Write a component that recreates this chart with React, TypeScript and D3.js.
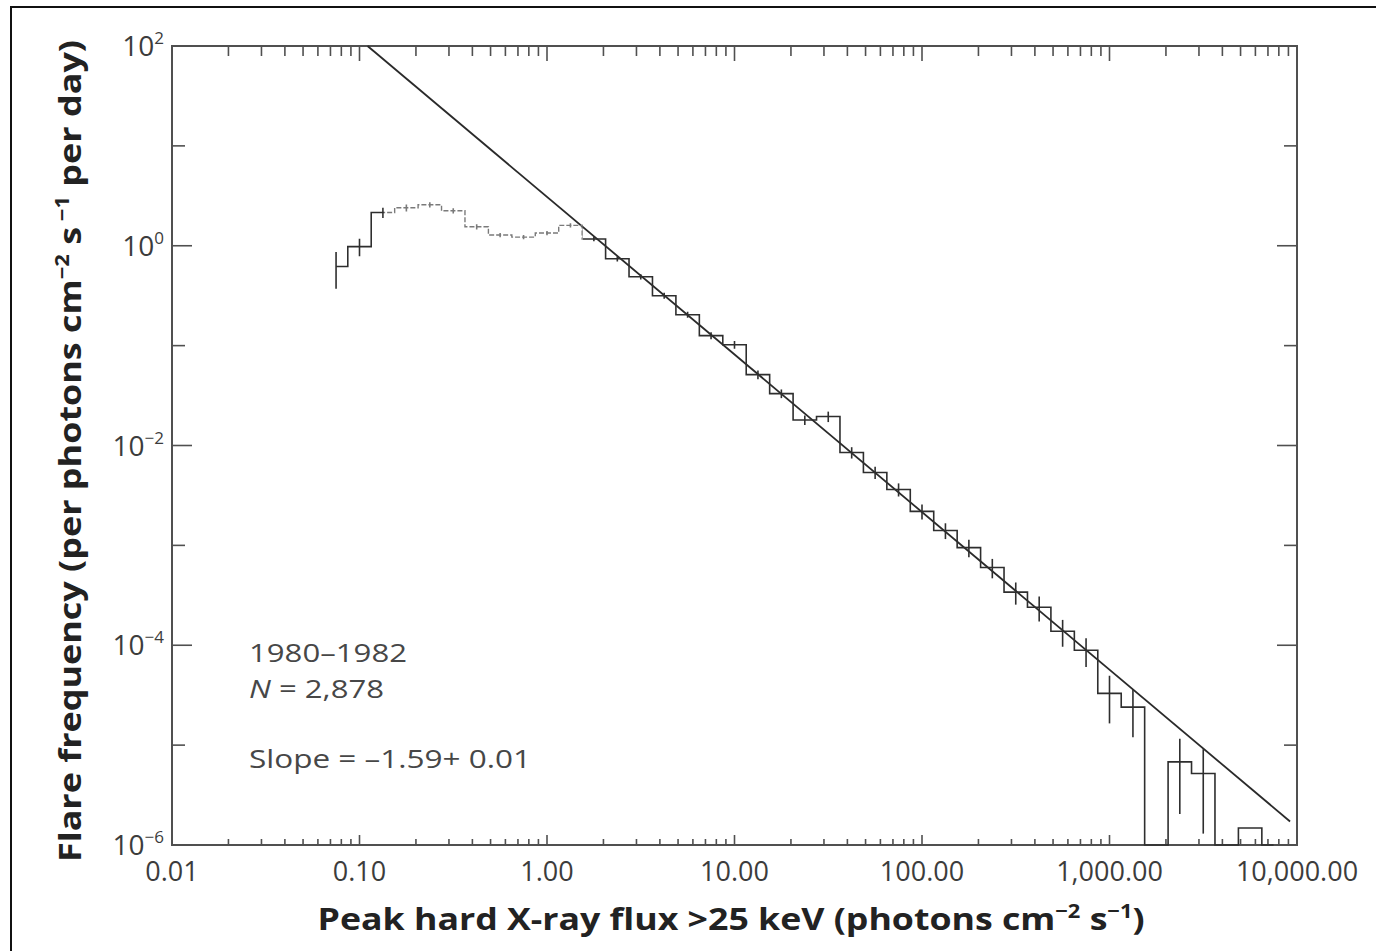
import React from 'react';
import * as d3 from 'd3';

// flare frequency distribution, 1/8-decade log bins (bin centres in log10 flux)
const binLogFlux = [
  -1.125, -1, -0.875, -0.75, -0.625, -0.5, -0.375, -0.25, -0.125, 0,
  0.125, 0.25, 0.375, 0.5, 0.625, 0.75, 0.875, 1, 1.125, 1.25,
  1.375, 1.5, 1.625, 1.75, 1.875, 2, 2.125, 2.25, 2.375, 2.5,
  2.625, 2.75, 2.875, 3, 3.125, 3.25, 3.375, 3.5, 3.625, 3.75, 3.875,
];
const flareFreq = [
  0.62, 0.98, 2.15, 2.4, 2.57, 2.24, 1.55, 1.28, 1.22, 1.34,
  1.6, 1.17, 0.74, 0.49, 0.316, 0.204, 0.126, 0.102, 0.0513, 0.0331,
  0.018, 0.0195, 0.00851, 0.00537, 0.00363, 0.00219, 0.00141, 0.00095, 0.0006, 0.00034,
  0.00024, 0.000138, 0.000089, 0.000033, 0.000024, 0, 0.0000068, 0.0000052, 0, 0.00000148, 0,
];
// relative 1-sigma error of each bin
const freqErr = [
  0.4, 0.2, 0.12, 0.08, 0.06, 0.06, 0.06, 0.05, 0.05, 0.05,
  0.05, 0.05, 0.06, 0.06, 0.07, 0.07, 0.08, 0.09, 0.1, 0.1,
  0.11, 0.12, 0.13, 0.14, 0.15, 0.17, 0.18, 0.2, 0.22, 0.25,
  0.28, 0.3, 0.32, 0.5, 0.5, 0, 0.7, 0.75, 0, 0, 0,
];

// power-law fit, slope -1.59
const fitLine: [number, number][] = [[0.1104, 100], [9183, 0.00000172]];

const xTickValues = [0.01, 0.1, 1, 10, 100, 1000, 10000];
const xTickLabels = ['0.01', '0.10', '1.00', '10.00', '100.00', '1,000.00', '10,000.00'];
const yTickExps = [2, 1, 0, -1, -2, -3, -4, -5, -6];
const yLabelExps = [2, 0, -2, -4, -6];

const W = 1376;
const H = 951;
const margin = { top: 46, right: 79, bottom: 106, left: 172 };
const FONT = "'Open Sans', 'Noto Sans', sans-serif";
const AXIS = '#505050';

export default function App() {
  const x = d3.scaleLog().domain([0.01, 10000]).range([margin.left, W - margin.right]);
  const y = d3.scaleLog().domain([1e-6, 100]).range([H - margin.bottom, margin.top]);
  const x0 = margin.left, x1 = W - margin.right, y0 = H - margin.bottom, y1 = margin.top;

  const yv = (v: number) => y(Math.max(v, 1e-6));

  // IDL-style histogram: starts/ends at bin centre, steps at bin edges
  const pts: [number, number][] = [];
  const n = binLogFlux.length;
  pts.push([Math.pow(10, binLogFlux[0]), flareFreq[0]]);
  for (let i = 0; i < n - 1; i++) {
    const edge = Math.pow(10, (binLogFlux[i] + binLogFlux[i + 1]) / 2);
    pts.push([edge, flareFreq[i]]);
    pts.push([edge, flareFreq[i + 1]]);
  }
  pts.push([Math.pow(10, binLogFlux[n - 1]), flareFreq[n - 1]]);
  const histPath = d3.line<[number, number]>().x(d => x(d[0])).y(d => yv(d[1]))(pts) || '';
  const fitPath = d3.line<[number, number]>().x(d => x(d[0])).y(d => y(d[1]))(fitLine) || '';

  const xt = x.ticks();
  const isDecade = (v: number) => Math.abs(Math.log10(v) - Math.round(Math.log10(v))) < 1e-6;

  // the low-flux hump prints faint in the original
  const fadeA = x(0.135), fadeB = x(1.55);

  const errBars = binLogFlux.map((lf, i) => {
    const v = flareFreq[i];
    const e = freqErr[i];
    if (v <= 0 || e <= 0) return null;
    const cx = x(Math.pow(10, lf));
    return (
      <line key={'eb' + i} x1={cx} x2={cx} y1={yv(v * (1 + e))} y2={yv(v * (1 - e))} strokeWidth={1.6} />
    );
  });

  return (
    <svg width={W} height={H} style={{ position: 'absolute', left: 0, top: 0, display: 'block', background: '#fff' }}
      fontFamily={FONT}>
      <defs>
        <clipPath id="dark">
          <rect x={0} y={0} width={fadeA} height={H} />
          <rect x={fadeB} y={0} width={W} height={H} />
        </clipPath>
        <clipPath id="faint">
          <rect x={fadeA} y={0} width={fadeB - fadeA} height={H} />
        </clipPath>
      </defs>

      <rect x={11} y={7} width={1400} height={1000} fill="none" stroke="#111" strokeWidth={2} />

      {/* frame */}
      <rect x={x0} y={y1} width={x1 - x0} height={y0 - y1} fill="none" stroke={AXIS} strokeWidth={2} />

      {/* x ticks top & bottom */}
      {xt.map((v, i) => {
        const big = isDecade(v);
        return (
          <g key={'xt' + i} stroke={AXIS} strokeWidth={1.6}>
            <line x1={x(v)} x2={x(v)} y1={y0} y2={y0 - (big ? 10 : 6)} />
            <line x1={x(v)} x2={x(v)} y1={y1} y2={y1 + (big ? 15 : 10)} />
          </g>
        );
      })}
      {/* y ticks left & right */}
      {yTickExps.map((p) => {
        const big = p % 2 === 0;
        const yy = y(Math.pow(10, p));
        return (
          <g key={'yt' + p} stroke={AXIS} strokeWidth={1.6}>
            <line x1={x0} x2={x0 + (big ? 20 : 13)} y1={yy} y2={yy} />
            <line x1={x1} x2={x1 - (big ? 20 : 13)} y1={yy} y2={yy} />
          </g>
        );
      })}

      {/* tick labels */}
      {xTickValues.map((v, i) => (
        <text key={'xl' + i} x={x(v)} y={881} textAnchor="middle" fontSize={27} fill="#3c3c3c">
          {xTickLabels[i]}
        </text>
      ))}
      {yLabelExps.map((p) => (
        <text key={'yl' + p} x={164} y={y(Math.pow(10, p)) + 10} textAnchor="end" fontSize={28} fill="#3c3c3c">
          10<tspan fontSize={17} dy={-12}>{p < 0 ? '−' + Math.abs(p) : String(p)}</tspan>
        </text>
      ))}

      {/* fit line */}
      <path d={fitPath} fill="none" stroke="#2a2a2a" strokeWidth={1.8} />

      {/* histogram */}
      <g clipPath="url(#dark)" stroke="#2e2e2e">
        <path d={histPath} fill="none" strokeWidth={1.6} />
        {errBars}
      </g>
      <g clipPath="url(#faint)" stroke="#7a7a7a">
        <path d={histPath} fill="none" strokeWidth={1.4} strokeDasharray="5 2" />
        {errBars}
      </g>

      {/* annotations */}
      <g fontSize={25} fill="#474747">
        <text x={249} y={662} textLength={158} lengthAdjust="spacingAndGlyphs">1980–1982</text>
        <text x={249} y={698} textLength={135} lengthAdjust="spacingAndGlyphs">
          <tspan fontStyle="italic">N</tspan> = 2,878
        </text>
        <text x={249} y={768} textLength={282} lengthAdjust="spacingAndGlyphs">Slope = –1.59+ 0.01</text>
      </g>

      {/* axis titles */}
      <text x={731} y={930} textAnchor="middle" fontSize={31} fontWeight="bold" fill="#222"
        textLength={827} lengthAdjust="spacingAndGlyphs">
        Peak hard X-ray flux &gt;25 keV (photons cm<tspan fontSize={19} dy={-12}>−2</tspan>
        <tspan dy={12}> s</tspan><tspan fontSize={19} dy={-12}>−1</tspan><tspan dy={12}>)</tspan>
      </text>
      <text transform="translate(81,451) rotate(-90)" x={0} y={0} textAnchor="middle" fontSize={31}
        fontWeight="bold" fill="#222" textLength={822} lengthAdjust="spacingAndGlyphs">
        Flare frequency (per photons cm<tspan fontSize={19} dy={-12}>−2</tspan>
        <tspan dy={12}> s</tspan><tspan fontSize={19} dy={-12}> −1</tspan><tspan dy={12}> per day)</tspan>
      </text>
    </svg>
  );
}
